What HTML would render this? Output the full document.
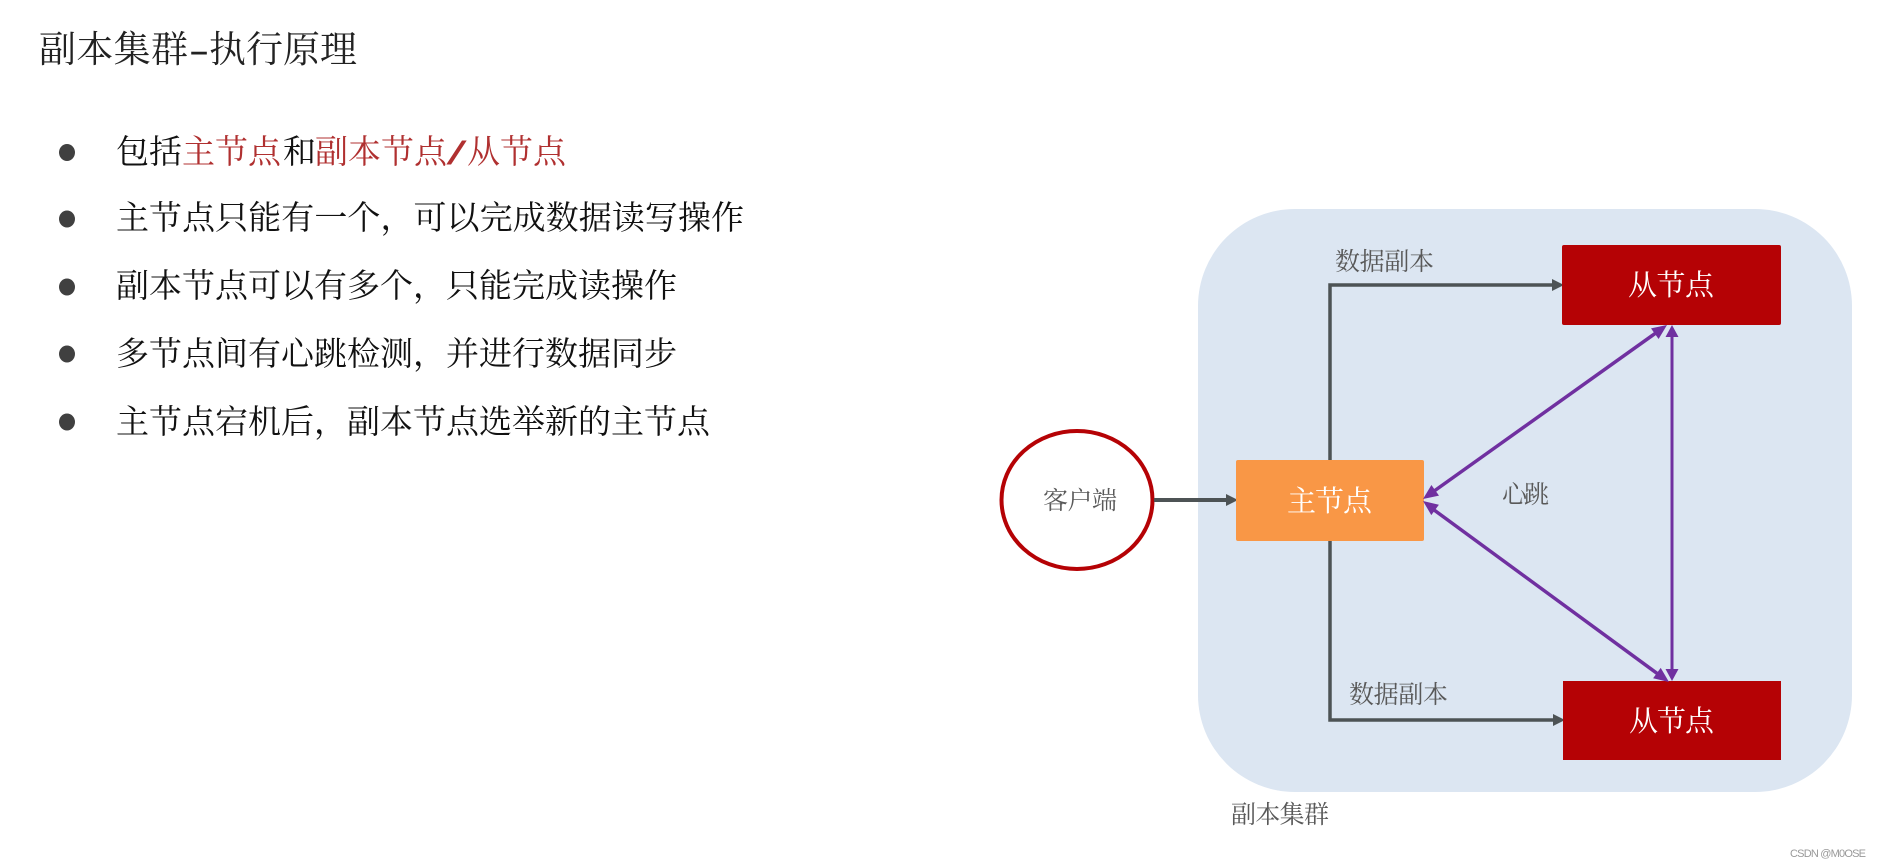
<!DOCTYPE html>
<html lang="zh"><head><meta charset="utf-8"><style>
html,body{margin:0;padding:0;background:#fff;width:1881px;height:867px;overflow:hidden}
svg{display:block}
text{font-family:"Liberation Serif","Noto Serif CJK SC",serif}
.b{font-size:33px;fill:#111}
.r{font-size:33px;fill:#b03030}
.g{font-size:25px;fill:#595959}
.w{font-size:29px;fill:#fff}
</style></head><body>
<svg width="1881" height="867" viewBox="0 0 1881 867" xmlns="http://www.w3.org/2000/svg">
<rect width="1881" height="867" fill="#fff"/>
<text x="39" y="62" font-size="37" fill="#222" textLength="149">副本集群</text>
<text x="189" y="62" font-size="37" fill="#222" textLength="20" lengthAdjust="spacingAndGlyphs">-</text>
<text x="209" y="62" font-size="37" fill="#222" textLength="148">执行原理</text>
<g fill="#404040">
<ellipse cx="67" cy="152.500" rx="8" ry="8.500"/><ellipse cx="67" cy="219" rx="8" ry="8.500"/><ellipse cx="67" cy="287" rx="8" ry="8.500"/><ellipse cx="67" cy="354" rx="8" ry="8.500"/><ellipse cx="67" cy="422" rx="8" ry="8.500"/>
</g>
<text x="116" y="163" class="b">包括</text>
<text x="182" y="163" class="r">主节点</text>
<text x="283" y="163" class="b">和</text>
<text x="315" y="163" class="r">副本节点</text>
<text x="447" y="164" font-size="36" font-weight="700" fill="#b03030" textLength="19" lengthAdjust="spacingAndGlyphs">/</text>
<text x="467" y="163" class="r">从节点</text>
<text x="116" y="229" class="b" textLength="628">主节点只能有一个，可以完成数据读写操作</text>
<text x="116" y="297" class="b" textLength="561">副本节点可以有多个，只能完成读操作</text>
<text x="116" y="365" class="b" textLength="561">多节点间有心跳检测，并进行数据同步</text>
<text x="116" y="433" class="b" textLength="594">主节点宕机后，副本节点选举新的主节点</text>

<rect x="1198" y="209" width="654" height="583" rx="97" ry="97" fill="#dce6f2"/>

<ellipse cx="1077" cy="500" rx="75.500" ry="69" fill="#fff" stroke="#b50205" stroke-width="4"/>

<g stroke="#4d5355" fill="none">
<path d="M1154 500H1228" stroke-width="4"/>
<path d="M1330 461V285H1554" stroke-width="3.500"/>
<path d="M1330 540V720H1555" stroke-width="3.500"/>
</g>
<g fill="#4d5355">
<polygon points="1238,500 1226,494 1226,506"/>
<polygon points="1564,285 1552,279 1552,291"/>
<polygon points="1565,720 1553,714 1553,726"/>
</g>

<rect x="1562" y="245" width="219" height="80" rx="2" fill="#b50205"/>
<rect x="1563" y="681" width="218" height="79" fill="#b50205"/>
<rect x="1236" y="460" width="188" height="81" rx="2" fill="#f99746"/>

<g stroke="#7030a0" fill="none">
<path d="M1430 494L1660 330" stroke-width="3.500"/>
<path d="M1430 507L1662 677" stroke-width="3.500"/>
<path d="M1672 335V671" stroke-width="3"/>
</g>
<g fill="#7030a0">
<polygon points="1423,499 1439,495.600 1431.400,485"/>
<polygon points="1423,501 1431.300,515.100 1438.900,504.700"/>
<polygon points="1667,325 1658.600,339 1651,328.400"/>
<polygon points="1669,682 1653.100,678.300 1660.700,667.900"/>
<polygon points="1672,325 1665.500,337 1678.500,337"/>
<polygon points="1672,681 1665.500,669 1678.500,669"/>
</g>

<text x="1335" y="270" class="g" textLength="99">数据副本</text>
<text x="1349" y="703" class="g" textLength="99">数据副本</text>
<text x="1502" y="503" class="g" textLength="47">心跳</text>
<text x="1043" y="509" class="g" textLength="74">客户端</text>
<text x="1231" y="823" class="g" textLength="98">副本集群</text>
<text x="1287" y="511" class="w" textLength="85">主节点</text>
<text x="1628" y="295" class="w" textLength="86">从节点</text>
<text x="1629" y="731" class="w" textLength="85">从节点</text>
<text x="1790" y="857" font-size="11" fill="#999" style="font-family:'Liberation Sans',sans-serif" textLength="76">CSDN @M0OSE</text>
</svg>
</body></html>
